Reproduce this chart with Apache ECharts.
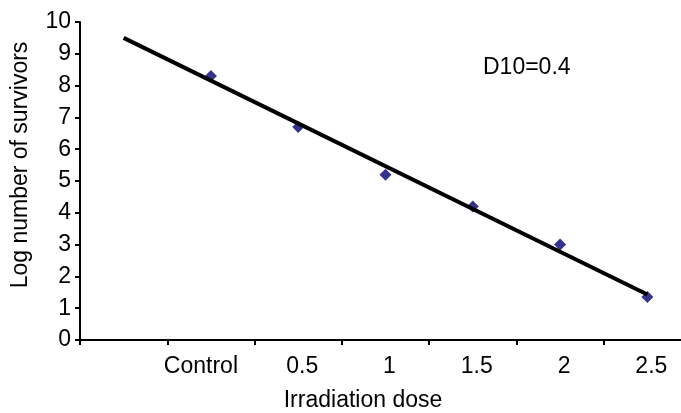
<!DOCTYPE html>
<html>
<head>
<meta charset="utf-8">
<script src="https://cdn.jsdelivr.net/npm/echarts@6/dist/echarts.min.js"></script>
<style>
  html, body { margin: 0; padding: 0; background: #fff; }
  #chart { width: 681px; height: 413px; }
</style>
</head>
<body>
<div id="chart"></div>
<script>
// first band is empty (Excel trendline forecast backward one period)
var categories = ["", "Control", "0.5", "1", "1.5", "2", "2.5"];
var survivors = [null, 8.3, 6.7, 5.2, 4.2, 3.0, 1.35];
// trendline end points: [category index, value]
var trendPoints = [[0, 9.5], [6, 1.43]];
var yTicks = [0, 10, 1]; // min, max, interval

var font = "'Liberation Sans', Arial, sans-serif";
// Excel nudges the labels a bit: "Control" sits left, the numbers slightly right
var xData = categories.map(function (c) {
  var pad = c === "Control" ? [0, 20, 0, 0] : [0, 0, 0, 8];
  return { value: c, textStyle: { padding: pad } };
});

var chart = echarts.init(document.getElementById("chart"));
var option = {
  backgroundColor: "#fff",
  animation: false,
  // plot area runs a little past the right edge, as in the source
  grid: { left: 80, top: 22, right: -10, bottom: 73, outerBoundsMode: "none", containLabel: false },
  xAxis: {
    type: "category",
    data: xData,
    boundaryGap: true,
    axisLine: { lineStyle: { color: "#000", width: 2 } },
    axisTick: { show: true, length: 5, lineStyle: { color: "#000", width: 2 }, interval: 0 },
    axisLabel: { interval: 0, color: "#000", fontSize: 23, fontFamily: font, margin: 15 },
    splitLine: { show: false }
  },
  yAxis: {
    type: "value",
    min: yTicks[0],
    max: yTicks[1],
    interval: yTicks[2],
    axisLine: { show: true, lineStyle: { color: "#000", width: 2 } },
    axisTick: { show: true, length: 5, lineStyle: { color: "#000", width: 2 } },
    axisLabel: { color: "#000", fontSize: 23, fontFamily: font, margin: 9 },
    splitLine: { show: false }
  },
  graphic: [
    {
      type: "text",
      x: 21, y: 165,
      rotation: Math.PI / 2,
      style: { text: "Log number of survivors", fill: "#000", font: "23px " + font, textAlign: "center", textVerticalAlign: "middle" }
    },
    {
      type: "text",
      x: 363, y: 401,
      style: { text: "Irradiation dose", fill: "#000", font: "23px " + font, textAlign: "center", textVerticalAlign: "middle" }
    },
    {
      type: "text",
      x: 483, y: 68,
      style: { text: "D10=0.4", fill: "#000", font: "23px " + font, textAlign: "left", textVerticalAlign: "middle" }
    }
  ],
  series: [
    {
      name: "survivors",
      type: "scatter",
      data: survivors,
      symbol: "diamond",
      symbolSize: [12, 12],
      itemStyle: { color: "#00006e" },
      z: 2
    },
    {
      name: "trend",
      type: "line",
      data: trendPoints,
      symbol: "none",
      lineStyle: { color: "#000", width: 4 },
      z: 3
    }
  ]
};
chart.setOption(option);
</script>
</body>
</html>
